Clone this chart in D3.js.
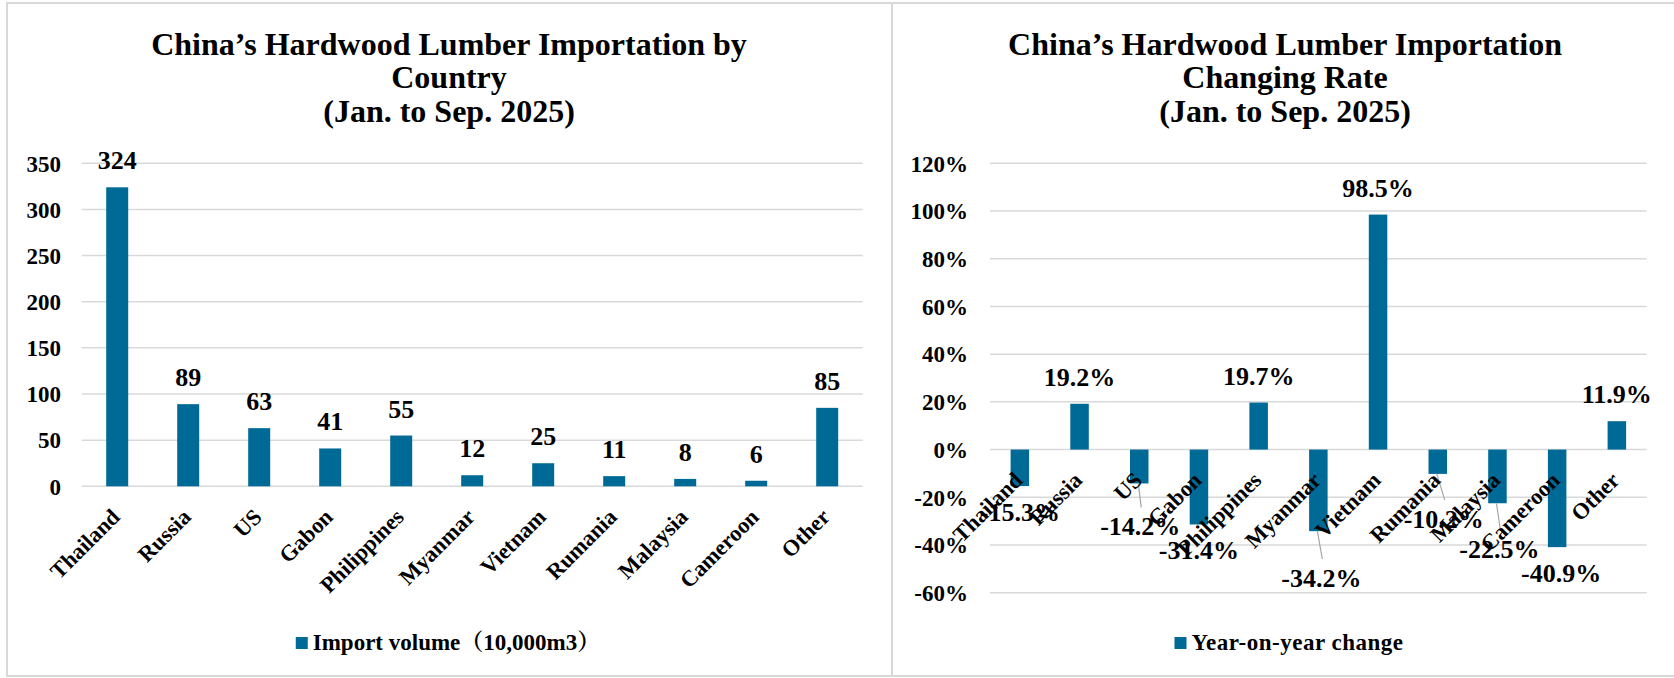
<!DOCTYPE html>
<html>
<head>
<meta charset="utf-8">
<script src="https://cdn.jsdelivr.net/npm/d3@7"></script>
<style>
  html, body { margin: 0; padding: 0; background: #fff; }
  svg { display: block; }
  text { font-family: "Liberation Serif", "Times New Roman", "Noto Serif CJK SC", "Noto Sans CJK SC", serif; font-weight: bold; fill: #000; }
</style>
</head>
<body>
<svg id="chart" width="1674" height="678"></svg>
<script>
// ---------------- DATA ----------------
const categories = ["Thailand", "Russia", "US", "Gabon", "Philippines", "Myanmar", "Vietnam", "Rumania", "Malaysia", "Cameroon", "Other"];
const importVolume = [324, 89, 63, 41, 55, 12, 25, 11, 8, 6, 85];          // 10,000 m3
const yoyChange = [-15.3, 19.2, -14.2, -31.4, 19.7, -34.2, 98.5, -10.2, -22.5, -40.9, 11.9]; // %
const volumeTicks = [0, 50, 100, 150, 200, 250, 300, 350];
const changeTicks = [-60, -40, -20, 0, 20, 40, 60, 80, 100, 120];
const leftTitle = ["China\u2019s Hardwood Lumber Importation by", "Country", "(Jan. to Sep. 2025)"];
const rightTitle = ["China\u2019s Hardwood Lumber Importation", "Changing Rate", "(Jan. to Sep. 2025)"];
const leftLegend = "Import volume\uFF0810,000m3\uFF09";
const rightLegend = "Year-on-year change";

// ---------------- STYLE / LAYOUT ----------------
const barColor = "#006a96";
const gridColor = "#d9d9d9";
const svg = d3.select("#chart");

// panel borders
svg.append("rect").attr("x", 7).attr("y", 3).attr("width", 885).attr("height", 673)
  .attr("fill", "none").attr("stroke", gridColor).attr("stroke-width", 2);
svg.append("rect").attr("x", 892).attr("y", 3).attr("width", 800).attr("height", 673)
  .attr("fill", "none").attr("stroke", gridColor).attr("stroke-width", 2);

function drawTitle(lines, cx) {
  const t = svg.append("text").attr("text-anchor", "middle").attr("font-size", 32);
  lines.forEach((l, i) => t.append("tspan").attr("x", cx).attr("y", 55 + i * 33.4).text(l));
}

function drawLegend(label, cx, spacing) {
  const g = svg.append("g");
  const txt = g.append("text").attr("font-size", 23).attr("y", 650)
    .attr("letter-spacing", spacing).text(label);
  const w = txt.node().getComputedTextLength();
  const total = 12 + 5 + w;
  const x0 = cx - total / 2;
  g.append("rect").attr("x", x0).attr("y", 637).attr("width", 12).attr("height", 12).attr("fill", barColor);
  txt.attr("x", x0 + 17);
}

function catLabels(x, axisY) {
  svg.append("g").selectAll("text").data(categories).join("text")
    .attr("font-size", 22.5).attr("text-anchor", "end")
    .attr("transform", d => `translate(${x(d) + x.bandwidth() / 2 + 4},${axisY + 32}) rotate(-45)`)
    .text(d => d);
}

// ---------------- LEFT CHART ----------------
{
  const x = d3.scaleBand().domain(categories).range([81.7, 862.7]).paddingInner(0.69).paddingOuter(0.345);
  const y = d3.scaleLinear().domain([0, 350]).range([486.3, 163.3]);
  const data = categories.map((c, i) => ({ c, v: importVolume[i] }));

  // gridlines
  svg.append("g").selectAll("line").data(volumeTicks).join("line")
    .attr("x1", 81.7).attr("x2", 862.7).attr("y1", d => y(d)).attr("y2", d => y(d))
    .attr("stroke", gridColor).attr("stroke-width", 1.5);

  // y axis labels
  const yAxis = d3.axisLeft(y).tickValues(volumeTicks).tickSize(0).tickPadding(0).tickFormat(d3.format("d"));
  const ga = svg.append("g").attr("transform", "translate(61,0)").call(yAxis);
  ga.select(".domain").remove();
  ga.selectAll("text").attr("font-size", 23).attr("font-family", null).attr("fill", "#000").attr("dy", "0.34em");

  // bars
  svg.append("g").selectAll("rect").data(data).join("rect")
    .attr("x", d => x(d.c)).attr("width", x.bandwidth())
    .attr("y", d => y(d.v)).attr("height", d => y(0) - y(d.v))
    .attr("fill", barColor);

  // value labels
  svg.append("g").selectAll("text").data(data).join("text")
    .attr("font-size", 26).attr("text-anchor", "middle")
    .attr("x", d => x(d.c) + x.bandwidth() / 2).attr("y", d => y(d.v) - 18)
    .text(d => d.v);

  catLabels(x, y(0));
  drawTitle(leftTitle, 449);
  drawLegend(leftLegend, 448, 0);
}

// ---------------- RIGHT CHART ----------------
{
  const x = d3.scaleBand().domain(categories).range([990, 1646.7]).paddingInner(0.69).paddingOuter(0.345);
  const y = d3.scaleLinear().domain([-60, 120]).range([592.7, 163.3]);
  const data = categories.map((c, i) => ({ c, v: yoyChange[i] }));
  const fmt = v => v.toFixed(1) + "%";

  svg.append("g").selectAll("line").data(changeTicks).join("line")
    .attr("x1", 990).attr("x2", 1646.7).attr("y1", d => y(d)).attr("y2", d => y(d))
    .attr("stroke", gridColor).attr("stroke-width", 1.5);

  const yAxis = d3.axisLeft(y).tickValues(changeTicks).tickSize(0).tickPadding(0).tickFormat(d => d + "%");
  const ga = svg.append("g").attr("transform", "translate(968,0)").call(yAxis);
  ga.select(".domain").remove();
  ga.selectAll("text").attr("font-size", 23).attr("font-family", null).attr("fill", "#000").attr("dy", "0.34em");

  svg.append("g").selectAll("rect").data(data).join("rect")
    .attr("x", d => x(d.c)).attr("width", x.bandwidth())
    .attr("y", d => y(Math.max(0, d.v))).attr("height", d => Math.abs(y(d.v) - y(0)))
    .attr("fill", barColor);

  // manually dragged labels (offset in px) with leader lines, as in the original
  const labelNudge = { "US": [1, 17], "Myanmar": [3, 21], "Rumania": [6, 19], "Malaysia": [2, 20], "Cameroon": [4, 0] };

  const lab = data.map(d => {
    const cx = x(d.c) + x.bandwidth() / 2;
    const n = labelNudge[d.c] || [0, 0];
    const yy = d.v >= 0 ? y(d.v) - 18 : y(d.v) + 35 + n[1];
    return { ...d, cx, lx: cx + n[0], ly: yy, lead: d.v < 0 && n[1] > 0 };
  });

  svg.append("g").selectAll("line").data(lab.filter(d => d.lead)).join("line")
    .attr("x1", d => d.cx - 1).attr("y1", d => y(d.v))
    .attr("x2", d => d.lx + 1).attr("y2", d => d.ly - 28)
    .attr("stroke", "#a6a6a6").attr("stroke-width", 1.2);

  catLabels(x, y(0));

  svg.append("g").selectAll("text").data(lab).join("text")
    .attr("font-size", 26).attr("text-anchor", "middle")
    .attr("x", d => d.lx).attr("y", d => d.ly)
    .text(d => fmt(d.v));

  drawTitle(rightTitle, 1285);
  drawLegend(rightLegend, 1289, 0.5);
}
</script>
</body>
</html>
